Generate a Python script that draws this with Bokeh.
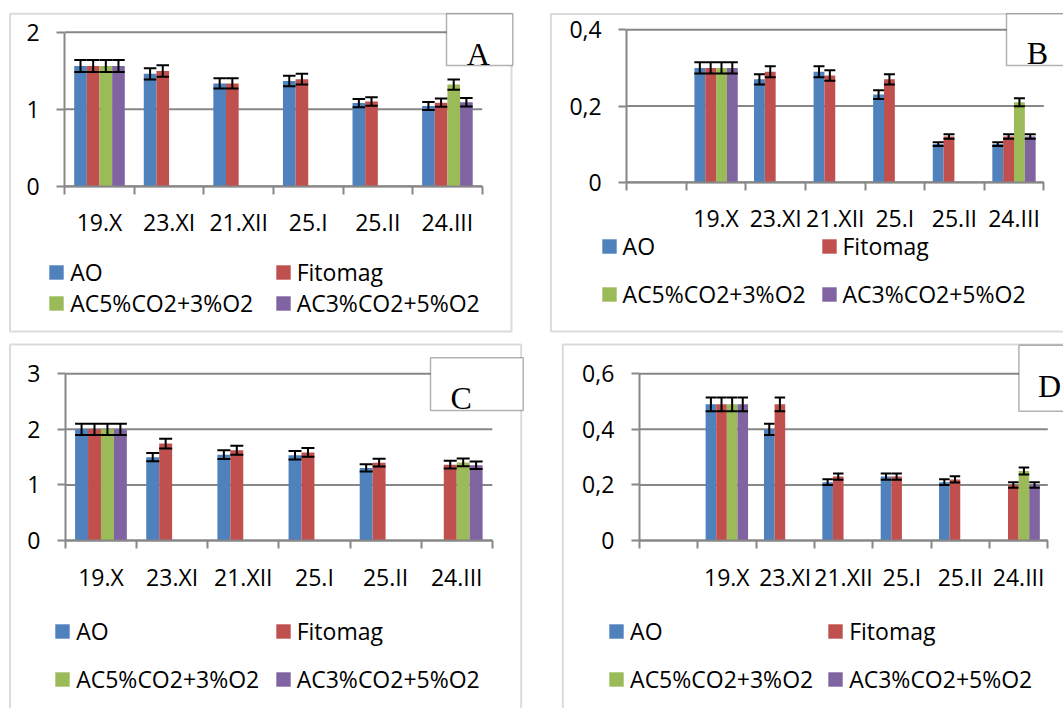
from bokeh.plotting import figure
from bokeh.models import (Range1d, LinearAxis, FixedTicker,
                          Whisker, TeeHead, ColumnDataSource, Legend, LegendItem,
                          BoxAnnotation, Label)
from bokeh.transform import dodge
from bokeh.layouts import column, row
from bokeh.embed import file_html
from bokeh.resources import INLINE

NaN = float("nan")

# ---------------- data ----------------
DATES = ["19.X", "23.XI", "21.XII", "25.I", "25.II", "24.III"]
DATES_BLANK = [" ", "19.X", "23.XI", "21.XII", "25.I", "25.II", "24.III"]
SERIES = ["AO", "Fitomag", "AC5%CO2+3%O2", "AC3%CO2+5%O2"]
COLORS = ["#4F81BD", "#C0504D", "#9BBB59", "#8064A2"]
ERR_FRACTION = 0.05   # percentage error bars (5 %)

A_AO = [1.56, 1.46, 1.335, 1.365, 1.08, 1.04]
A_FIT = [1.56, 1.495, 1.335, 1.39, 1.10, 1.085]
A_AC5 = [1.56, 0, 0, 0, 0, 1.32]
A_AC3 = [1.56, 0, 0, 0, 0, 1.09]
A_YTICKS = [0, 1, 2]
A_YLABELS = ["0", "1", "2"]

B_AO = [NaN, 0.30, 0.27, 0.29, 0.23, 0.10, 0.10]
B_FIT = [NaN, 0.30, 0.29, 0.28, 0.27, 0.12, 0.12]
B_AC5 = [NaN, 0.30, NaN, NaN, NaN, NaN, 0.21]
B_AC3 = [NaN, 0.30, NaN, NaN, NaN, NaN, 0.12]
B_YTICKS = [0, 0.2, 0.4]
B_YLABELS = ["0", "0,2", "0,4"]

C_AO = [2.0, 1.50, 1.545, 1.535, 1.305, NaN]
C_FIT = [2.0, 1.745, 1.625, 1.585, 1.40, 1.365]
C_AC5 = [2.0, NaN, NaN, NaN, NaN, 1.405]
C_AC3 = [2.0, NaN, NaN, NaN, NaN, 1.355]
C_YTICKS = [0, 1, 2, 3]
C_YLABELS = ["0", "1", "2", "3"]

D_AO = [NaN, 0.49, 0.40, 0.21, 0.23, 0.21, NaN]
D_FIT = [NaN, 0.49, 0.49, 0.23, 0.23, 0.22, 0.20]
D_AC5 = [NaN, 0.49, NaN, NaN, NaN, NaN, 0.25]
D_AC3 = [NaN, 0.49, NaN, NaN, NaN, NaN, 0.20]
D_YTICKS = [0, 0.2, 0.4, 0.6]
D_YLABELS = ["0", "0,2", "0,4", "0,6"]

GRAY = "#878787"
FONT = "Open Sans"
FS = "23px"
ITEM_H = 31
BW = 1.0 / 5.5
OFFS = [-1.5 * BW, -0.5 * BW, 0.5 * BW, 1.5 * BW]


def build(cats, vals, yticks, ylabels, canvas, area, outer, lbox, letter, squares, head):
    # canvas / area / boxes are in page pixels; converted to this canvas below
    cl, ct, cr, cb = canvas
    al, at, ar, ab = area
    n = len(cats)
    ymax = yticks[-1]
    xs = n / (ar - al)
    ys = ymax / (ab - at)
    centers = [i + 0.5 for i in range(n)]
    p = figure(x_range=Range1d(-(al - cl) * xs, n + (cr - ar) * xs),
               y_range=Range1d(-(cb - ab) * ys, ymax + (at - ct) * ys),
               width=int(cr - cl), height=int(cb - ct), min_border=0, title=None,
               output_backend="svg", toolbar_location=None,
               x_axis_location=None, y_axis_location=None)
    p.outline_line_color = None
    p.background_fill_color = "white"
    p.border_fill_color = "white"
    p.grid.visible = False

    # horizontal gridlines over the category span
    p.segment(x0=0, x1=n, y0=yticks, y1=yticks, line_color=GRAY, line_width=2)

    yax = LinearAxis(fixed_location=0, bounds=(0, ymax), ticker=FixedTicker(ticks=yticks),
                     major_label_overrides={t: l for t, l in zip(yticks, ylabels)},
                     axis_line_color=GRAY, axis_line_width=2,
                     major_tick_line_color=GRAY, major_tick_line_width=2,
                     major_tick_out=8, major_tick_in=0, minor_tick_line_color=None,
                     major_label_text_font=FONT, major_label_text_font_size=FS,
                     major_label_text_color="black", major_label_standoff=17)
    p.add_layout(yax, "left")
    tax = LinearAxis(fixed_location=0, bounds=(0, n), ticker=FixedTicker(ticks=list(range(n + 1))),
                     axis_line_color=GRAY, axis_line_width=2,
                     major_tick_line_color=GRAY, major_tick_line_width=2,
                     major_tick_out=8, major_tick_in=0, minor_tick_line_color=None,
                     major_label_text_font_size="1px", major_label_text_color=None,
                     major_label_standoff=0)
    p.add_layout(tax, "below")
    cax = LinearAxis(fixed_location=0, ticker=FixedTicker(ticks=centers),
                     major_label_overrides={c: lab for c, lab in zip(centers, cats)},
                     axis_line_color=None, major_tick_line_color=None,
                     major_tick_out=0, major_tick_in=0, minor_tick_line_color=None,
                     major_label_text_font=FONT, major_label_text_font_size=FS,
                     major_label_text_color="black", major_label_standoff=20)
    p.add_layout(cax, "below")

    data = {"x": centers}
    for i, v in enumerate(vals):
        data[f"s{i}"] = v
    src = ColumnDataSource(data)
    rends = []
    for i, (v, off, col) in enumerate(zip(vals, OFFS, COLORS)):
        r = p.vbar(x=dodge("x", off), top=f"s{i}", width=BW,
                   source=src, fill_color=col, line_color=None)
        rends.append(r)
        keep = [(c, x) for c, x in zip(centers, v) if x == x and x > 0]
        wsrc = ColumnDataSource(dict(x=[c for c, _ in keep],
                                     upper=[x * (1 + ERR_FRACTION) for _, x in keep],
                                     lower=[x * (1 - ERR_FRACTION) for _, x in keep]))
        w = Whisker(base=dodge("x", off), upper="upper", lower="lower",
                    source=wsrc, line_color="black", line_width=2, level="overlay",
                    upper_head=TeeHead(size=head, line_color="black", line_width=2),
                    lower_head=TeeHead(size=head, line_color="black", line_width=2))
        p.add_layout(w)

    # legend: one entry per legend object, placed like the Excel 2x2 grid
    for s, r, (sx, sy) in zip(SERIES, rends, squares):
        left = sx - 1.8
        top = sy - (ITEM_H - 14.4) / 2
        lg = Legend(items=[LegendItem(label=s, renderers=[r])],
                    location=(left - cl, cb - (top + ITEM_H)),
                    padding=0, margin=0, spacing=0, glyph_width=18, glyph_height=18,
                    label_standoff=5, label_text_font=FONT, label_text_font_size=FS,
                    label_text_color="black", border_line_color=None,
                    background_fill_alpha=0)
        p.add_layout(lg)

    ob = BoxAnnotation(left=outer[0] - cl, top=outer[1] - ct, right=outer[2] - cl,
                       bottom=outer[3] - ct,
                       left_units="canvas", right_units="canvas",
                       top_units="canvas", bottom_units="canvas",
                       fill_color=None, fill_alpha=0, line_color=GRAY, line_width=2,
                       level="overlay")
    p.add_layout(ob)
    lb = BoxAnnotation(left=lbox[0] - cl, top=lbox[1] - ct, right=lbox[2] - cl,
                       bottom=lbox[3] - ct,
                       left_units="canvas", right_units="canvas",
                       top_units="canvas", bottom_units="canvas",
                       fill_color="white", fill_alpha=1, line_color="black", line_width=1.5,
                       level="overlay")
    p.add_layout(lb)
    lab = Label(x=letter[1] - cl, y=letter[2] - ct, x_units="canvas", y_units="canvas",
                text=letter[0], text_font="Liberation Serif", text_font_size="32px",
                text_align=letter[3], text_baseline="alphabetic", text_color="black",
                level="overlay")
    p.add_layout(lab)
    return p


pA = build(DATES, [A_AO, A_FIT, A_AC5, A_AC3], A_YTICKS, A_YLABELS,
           (0, 0, 530, 337), (64.2, 31.7, 481.7, 185.7),
           (9.5, 13.3, 511, 331), (446, 13.3, 512.3, 65), ("A", 477.8, 53.3, "center"),
           [(49, 265), (275.5, 265), (49, 296), (275.5, 296)], 12.5)
pB = build(DATES_BLANK, [B_AO, B_FIT, B_AC5, B_AC3], B_YTICKS, B_YLABELS,
           (530, 0, 1063, 337), (626.2, 29.3, 1043.3, 181.7),
           (550.4, 13.5, 1075, 331), (1006, 13.3, 1075, 65), ("B", 1037, 52.7, "center"),
           [(601.4, 239), (821.3, 239), (601.4, 287.3), (821.3, 287.3)], 11)
pC = build(DATES, [C_AO, C_FIT, C_AC5, C_AC3], C_YTICKS, C_YLABELS,
           (0, 337, 541, 708), (64.9, 373.3, 491.8, 540),
           (9.5, 344, 520.7, 720), (430, 357.3, 522.7, 410), ("C", 460.7, 397.3, "center"),
           [(55, 624.3), (275.5, 624.3), (55, 672.3), (275.5, 672.3)], 13)
pD = build(DATES_BLANK, [D_AO, D_FIT, D_AC5, D_AC3], D_YTICKS, D_YLABELS,
           (541, 337, 1063, 708), (638.8, 373.3, 1047.3, 540),
           (562.3, 344, 1075, 720), (1018.4, 344.7, 1075, 410.7), ("D", 1037.5, 385, "left"),
           [(608.9, 624.3), (828, 624.3), (608.9, 672.3), (828, 672.3)], 10.5)

layout = column(row(pA, pB, spacing=0), row(pC, pD, spacing=0), spacing=0)
open("out.html", "w").write(file_html(layout, INLINE))
